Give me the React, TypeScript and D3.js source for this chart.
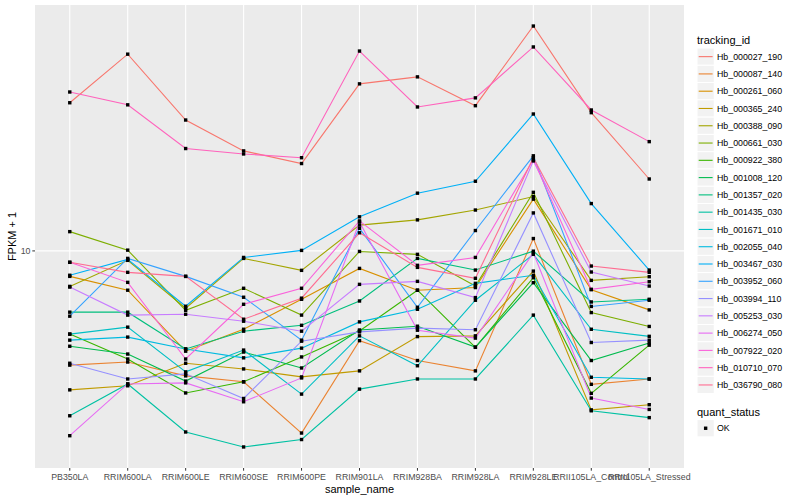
import React from 'react';
import * as d3 from 'd3';

// x categories
const sampleNames = [
  'PB350LA', 'RRIM600LA', 'RRIM600LE', 'RRIM600SE', 'RRIM600PE', 'RRIM901LA',
  'RRIM928BA', 'RRIM928LA', 'RRIM928LE', 'RRII105LA_Control', 'RRII105LA_Stressed',
];

// FPKM + 1 per gene, in sample order
const hb000027_190 = [31.3, 45.5, 27.4, 21.6, 19.6, 36.2, 38.2, 30.6, 56.5, 29.0, 17.4];
const hb000087_140 = [4.15, 4.25, 3.82, 3.65, 2.46, 5.01, 4.3, 3.97, 11.0, 3.58, 3.73];
const hb000261_060 = [8.22, 7.39, 4.62, 5.47, 6.89, 8.74, 7.39, 7.54, 14.9, 7.42, 6.35];
const hb000365_240 = [3.43, 3.54, 4.21, 4.03, 3.79, 3.97, 5.17, 5.2, 8.56, 2.94, 3.06];
const hb000388_090 = [7.61, 9.3, 6.43, 9.44, 8.61, 12.2, 12.7, 13.7, 15.2, 7.97, 8.2];
const hb000661_030 = [11.6, 10.06, 6.33, 7.5, 6.1, 9.96, 9.74, 7.63, 15.7, 6.22, 5.59];
const hb000922_380 = [5.27, 4.35, 3.35, 3.65, 4.42, 5.4, 7.39, 4.76, 8.14, 3.34, 4.84];
const hb001008_120 = [4.8, 4.52, 3.67, 4.59, 4.06, 5.44, 5.6, 4.77, 7.83, 4.3, 4.92];
const hb001357_020 = [6.24, 6.24, 4.7, 5.39, 5.64, 6.8, 9.44, 8.63, 9.98, 6.75, 6.89];
const hb001435_030 = [2.81, 3.59, 2.48, 2.21, 2.34, 3.45, 3.73, 3.73, 6.1, 2.92, 2.77];
const hb001671_010 = [5.27, 5.56, 3.94, 4.66, 3.32, 5.2, 4.13, 6.84, 9.74, 5.47, 5.18];
const hb002055_040 = [5.03, 5.15, 4.7, 4.39, 4.73, 5.79, 6.38, 7.79, 8.29, 3.78, 3.73];
const hb003467_030 = [8.29, 9.37, 6.53, 9.51, 10.04, 13.0, 15.6, 17.1, 28.7, 14.4, 8.63];
const hb003952_060 = [6.05, 9.44, 8.22, 7.0, 5.03, 11.9, 6.48, 11.7, 20.8, 6.52, 6.84];
const hb003994_110 = [4.21, 3.73, 3.88, 3.21, 4.99, 5.36, 5.52, 5.45, 13.4, 4.94, 5.03];
const hb005253_030 = [7.57, 6.1, 6.14, 5.82, 5.39, 7.73, 7.91, 6.98, 20.0, 8.5, 7.63];
const hb006274_050 = [2.41, 3.59, 3.62, 3.13, 3.76, 12.5, 5.43, 5.11, 9.86, 3.22, 2.95];
const hb007922_020 = [9.16, 7.85, 4.35, 6.63, 7.5, 12.6, 8.95, 9.51, 20.2, 7.44, 7.89];
const hb010710_070 = [34.0, 30.8, 22.0, 21.1, 20.5, 46.6, 30.3, 32.5, 48.1, 29.6, 23.2];
const hb036790_080 = [9.16, 8.48, 8.22, 5.91, 6.95, 11.5, 8.81, 8.1, 20.5, 8.9, 8.48];

const trackingIds = [
  'Hb_000027_190', 'Hb_000087_140', 'Hb_000261_060', 'Hb_000365_240', 'Hb_000388_090',
  'Hb_000661_030', 'Hb_000922_380', 'Hb_001008_120', 'Hb_001357_020', 'Hb_001435_030',
  'Hb_001671_010', 'Hb_002055_040', 'Hb_003467_030', 'Hb_003952_060', 'Hb_003994_110',
  'Hb_005253_030', 'Hb_006274_050', 'Hb_007922_020', 'Hb_010710_070', 'Hb_036790_080',
];
const seriesValues = [
  hb000027_190, hb000087_140, hb000261_060, hb000365_240, hb000388_090,
  hb000661_030, hb000922_380, hb001008_120, hb001357_020, hb001435_030,
  hb001671_010, hb002055_040, hb003467_030, hb003952_060, hb003994_110,
  hb005253_030, hb006274_050, hb007922_020, hb010710_070, hb036790_080,
];
const yTicks = [10];

// ggplot default hue palette for 20 levels
const palette = [
  '#F8766D', '#EA8331', '#D89000', '#C09B00', '#A3A500', '#7CAE00', '#39B600', '#00BB4E',
  '#00BF7D', '#00C1A3', '#00BFC4', '#00BAE0', '#00B0F6', '#35A2FF', '#9590FF', '#C77CFF',
  '#E76BF3', '#FA62DB', '#FF62BC', '#FF6C91',
];

const W = 800;
const H = 500;
const panel = { left: 35, right: 684, top: 5, bottom: 468 };
const font = '"Liberation Sans", Arial, sans-serif';

const App: React.FC = () => {
  const x = d3
    .scalePoint<string>()
    .domain(sampleNames)
    .range([panel.left, panel.right])
    .padding(0.6);

  const all = seriesValues.flat();
  const lo = Math.log10(d3.min(all) || 1);
  const hi = Math.log10(d3.max(all) || 10);
  const pad = (hi - lo) * 0.05;
  const y = d3
    .scaleLog()
    .domain([10 ** (lo - pad), 10 ** (hi + pad)])
    .range([panel.bottom, panel.top]);

  const line = d3
    .line<number>()
    .x((_, i) => x(sampleNames[i]) as number)
    .y((d) => y(d));

  const keyH = 17.28;
  const legendTop = 48;
  const pt = 3.4;

  return (
    <div style={{ position: 'absolute', left: 0, top: 0 }}>
      <svg width={W} height={H} style={{ display: 'block', background: '#fff', fontFamily: font }}>
        <rect
          x={panel.left}
          y={panel.top}
          width={panel.right - panel.left}
          height={panel.bottom - panel.top}
          fill="#EBEBEB"
        />
        {yTicks.map((t) => (
          <line key={'gy' + t} x1={panel.left} x2={panel.right} y1={y(t)} y2={y(t)} stroke="#fff" strokeWidth={1.1} />
        ))}
        {sampleNames.map((s) => (
          <line key={'gx' + s} x1={x(s)} x2={x(s)} y1={panel.top} y2={panel.bottom} stroke="#fff" strokeWidth={1.1} />
        ))}

        {seriesValues.map((vals, i) => (
          <path key={'l' + i} d={line(vals) || ''} fill="none" stroke={palette[i]} strokeWidth={1.1} />
        ))}
        {seriesValues.map((vals, i) =>
          vals.map((v, j) => (
            <rect
              key={'p' + i + '-' + j}
              x={(x(sampleNames[j]) as number) - pt / 2}
              y={y(v) - pt / 2}
              width={pt}
              height={pt}
              fill="#000"
            />
          ))
        )}

        {/* axes */}
        {sampleNames.map((s) => (
          <g key={'tx' + s}>
            <line x1={x(s)} x2={x(s)} y1={panel.bottom} y2={panel.bottom + 2.7} stroke="#333" strokeWidth={1} />
            <text x={x(s)} y={480} fontSize={8.8} fill="#4D4D4D" textAnchor="middle">
              {s}
            </text>
          </g>
        ))}
        {yTicks.map((t) => (
          <g key={'ty' + t}>
            <line x1={panel.left - 2.7} x2={panel.left} y1={y(t)} y2={y(t)} stroke="#333" strokeWidth={1} />
            <text x={panel.left - 4.5} y={y(t) + 3.1} fontSize={8.8} fill="#4D4D4D" textAnchor="end">
              {t}
            </text>
          </g>
        ))}
        <text x={(panel.left + panel.right) / 2} y={493} fontSize={11} textAnchor="middle">
          sample_name
        </text>
        <text
          transform={`translate(16,${(panel.top + panel.bottom) / 2}) rotate(-90)`}
          fontSize={11}
          textAnchor="middle"
        >
          FPKM + 1
        </text>

        {/* legend: tracking_id */}
        <text x={697} y={44} fontSize={11}>
          tracking_id
        </text>
        {trackingIds.map((id, i) => {
          const top = legendTop + i * keyH;
          return (
            <g key={'lg' + id}>
              <rect x={697} y={top} width={keyH} height={keyH} fill="#F2F2F2" stroke="#fff" strokeWidth={1} />
              <line x1={698.7} x2={712.6} y1={top + keyH / 2} y2={top + keyH / 2} stroke={palette[i]} strokeWidth={1.1} />
              <text x={717} y={top + keyH / 2 + 3.1} fontSize={8.8}>
                {id}
              </text>
            </g>
          );
        })}

        {/* legend: quant_status */}
        <text x={697} y={415.5} fontSize={11}>
          quant_status
        </text>
        <rect x={697} y={419.6} width={keyH} height={keyH} fill="#F2F2F2" stroke="#fff" strokeWidth={1} />
        <rect x={697 + keyH / 2 - pt / 2} y={419.6 + keyH / 2 - pt / 2} width={pt} height={pt} fill="#000" />
        <text x={717} y={419.6 + keyH / 2 + 3.1} fontSize={8.8}>
          OK
        </text>
      </svg>
    </div>
  );
};

export default App;
